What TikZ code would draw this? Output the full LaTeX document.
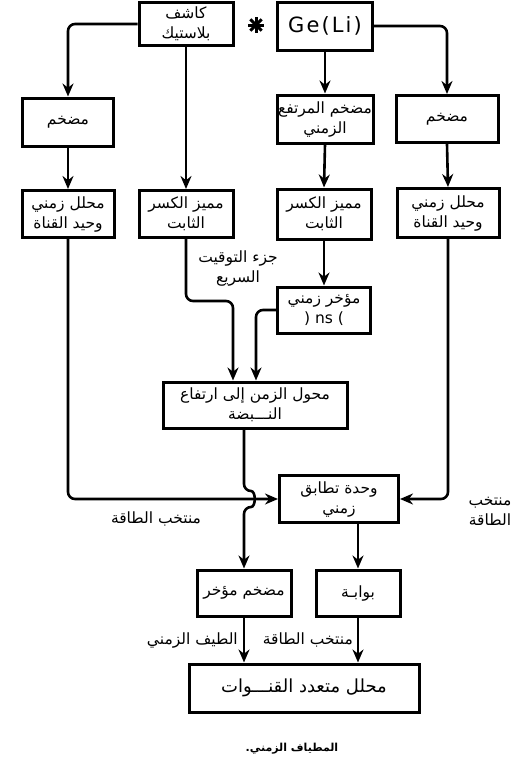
\documentclass[tikz,border=0pt]{standalone}
\usepackage{fontspec}
\usetikzlibrary{arrows.meta}
\TeXXeTstate=1
\newfontfamily\arabicfont[Script=Arabic]{DejaVu Sans}
\newfontfamily\gefont[LetterSpace=10]{DejaVu Sans}
\newcommand\artxt[1]{{\arabicfont\beginR #1\endR}}
\begin{document}
\begin{tikzpicture}[x=1pt,y=-1pt,
  blk/.style={draw, line width=3pt, rectangle, inner sep=0pt, align=center, font=\arabicfont\fontsize{15.5}{20}\selectfont},
  conn/.style={line width=2.6pt, rounded corners=7pt},
  arr/.style={conn, -{Stealth[length=13pt,width=11pt]}},
  lbl/.style={inner sep=0pt, align=center, font=\arabicfont\fontsize{15.5}{20}\selectfont}]
\useasboundingbox (0,0) rectangle (517,780);

% row 1
\node[blk, minimum width=94pt, minimum height=43pt] (plastic) at (186,24) {\artxt{كاشف}\\\artxt{بلاستيك}};
\node[blk, minimum width=95pt, minimum height=48pt, font=\gefont\fontsize{21}{24}\selectfont] (ge) at (325,26) {Ge(Li)};
\coordinate (star) at (256,25);
\foreach \a in {0,45,...,315} {\draw[line width=3pt] (star) -- ++(\a:8);}

% row 2
\node[blk, minimum width=91pt, minimum height=48pt] (preL) at (68,122) {\artxt{مضخم}};
\node[blk, minimum width=96pt, minimum height=48pt] (fastpre) at (325,119) {\artxt{مضخم المرتفع}\\\artxt{الزمني}};
\node[blk, minimum width=102pt, minimum height=47pt] (preR) at (447,119) {\artxt{مضخم}};

% row 3
\node[blk, minimum width=92pt, minimum height=47pt] (tscaL) at (68,214) {\artxt{محلل زمني}\\\artxt{وحيد القناة}};
\node[blk, minimum width=94pt, minimum height=47pt] (cfdL) at (186,214) {\artxt{مميز الكسر}\\\artxt{الثابت}};
\node[blk, minimum width=94pt, minimum height=50pt] (cfdR) at (324,214) {\artxt{مميز الكسر}\\\artxt{الثابت}};
\node[blk, minimum width=102pt, minimum height=49pt] (tscaR) at (448,213) {\artxt{محلل زمني}\\\artxt{وحيد القناة}};

% delay and TAC
\node[blk, minimum width=93pt, minimum height=46pt] (delay) at (324,310) {\artxt{مؤخر زمني}\\( ns )};
\node[blk, minimum width=184pt, minimum height=46pt] (tac) at (255,405) {\artxt{محول الزمن إلى ارتفاع}\\\artxt{النـــبضة}};
\path (tac.north) +(-22,0) coordinate (tA) +(1,0) coordinate (tB);

% coincidence
\node[blk, minimum width=119pt, minimum height=47pt] (coinc) at (339,499) {\artxt{وحدة تطابق}\\\artxt{زمني}};

% delay amp and gate
\node[blk, minimum width=94pt, minimum height=46pt] (delamp) at (244,593) {\artxt{مضخم مؤخر}};
\node[blk, minimum width=84pt, minimum height=46pt] (gate) at (358,593) {\artxt{بوابـة}};

% MCA
\node[blk, minimum width=230pt, minimum height=48pt, font=\arabicfont\fontsize{18}{22}\selectfont] (mca) at (304,688) {\artxt{محلل متعدد القنـــوات}};

% labels
\node[lbl] (fastlbl) at (238,268) {\artxt{جزء التوقيت}\\\artxt{السريع}};
\node[lbl] (elL) at (156,519) {\artxt{منتخب الطاقة}};
\node[lbl] (elR) at (490,511) {\artxt{منتخب}\\\artxt{الطاقة}};
\node[lbl, anchor=east] (tslbl) at (238,640) {\artxt{الطيف الزمني}};
\node[lbl, anchor=east] (elG) at (353,640) {\artxt{منتخب الطاقة}};
\node[lbl, font=\arabicfont\bfseries\fontsize{11}{13}\selectfont] (cap) at (292,749) {\artxt{المطياف الزمني.}};

% connectors
\draw[arr] (plastic.west) -| (preL.north);
\draw[arr] (ge.east) -| (preR.north);
\draw[arr] (ge.south) -- (fastpre.north);
\draw[arr] (plastic.south) -- (cfdL.north);
\draw[arr] (preL.south) -- (tscaL.north);
\draw[arr] (fastpre.south) -- (cfdR.north);
\draw[arr] (preR.south) -- (tscaR.north);
\draw[arr] (cfdR.south) -- (delay.north);
\coordinate (kneeL) at (186,301);
\draw[arr] (cfdL.south) -- (kneeL) -| (tA);
\draw[arr] (delay.west) -| (tB);
\coordinate (hopTop) at (244,491);
\coordinate (hopBot) at (244,507);
\draw[arr] (tac.south -| delamp.north) -- (hopTop) .. controls +(12,0) and +(12,0) .. (hopBot) -- (delamp.north);
\coordinate (kneeEL) at (68,499);
\draw[arr] (tscaL.south) -- (kneeEL) -- (coinc.west);
\draw[arr] (tscaR.south) |- (coinc.east);
\draw[arr] (coinc.south -| gate.north) -- (gate.north);
\draw[arr] (delamp.south) -- (delamp.south |- mca.north);
\draw[arr] (gate.south) -- (gate.south |- mca.north);
\end{tikzpicture}
\end{document}
